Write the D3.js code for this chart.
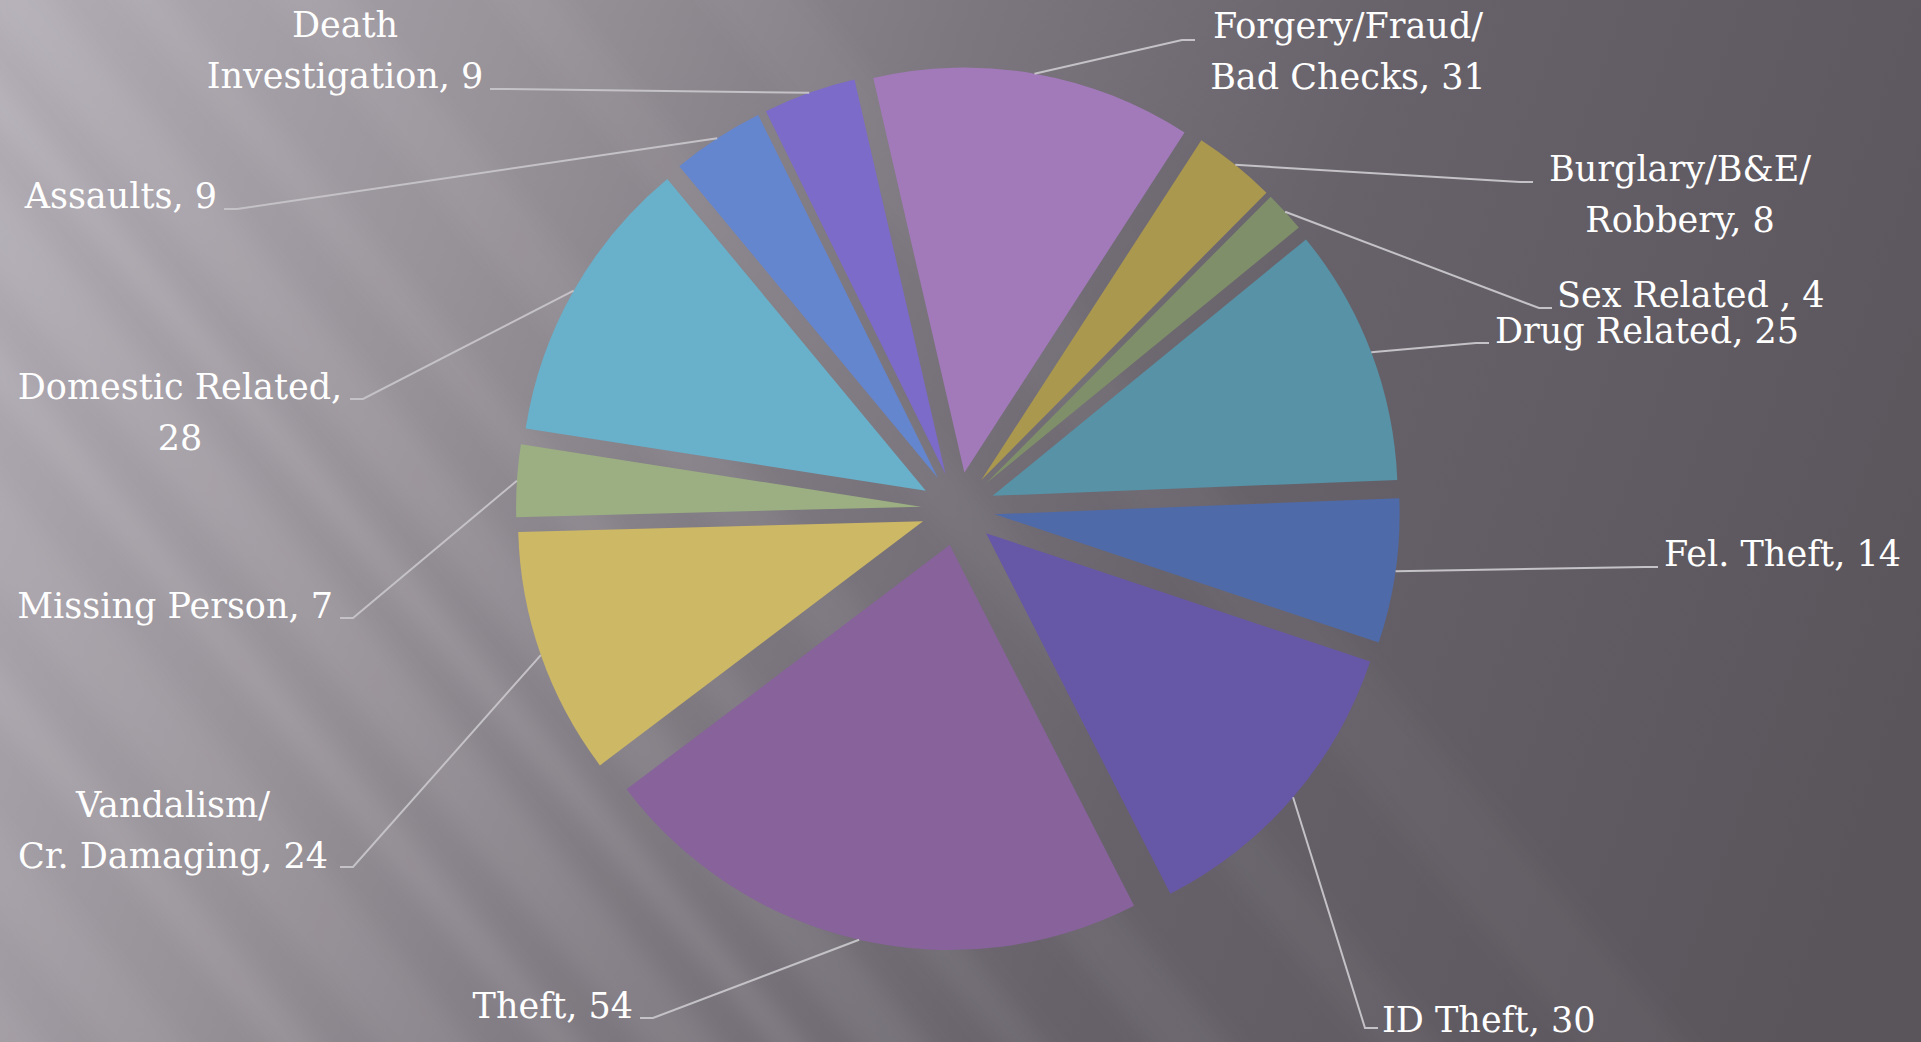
<!DOCTYPE html>
<html>
<head>
<meta charset="utf-8">
<script src="https://cdn.jsdelivr.net/npm/d3@7"></script>
<style>
  html, body { margin: 0; padding: 0; overflow: hidden; background: #6e6970; }
  svg { display: block; }
  .lbl {
    font-family: "DejaVu Serif", serif;
    font-size: 35px;
    fill: #ffffff;
  }
</style>
</head>
<body>
<div id="chart"></div>
<script>
// Data, clockwise from the first slice
const categories = [
    "Forgery/Fraud/\nBad Checks",
    "Burglary/B&E/\nRobbery",
    "Sex Related ",
    "Drug Related",
    "Fel. Theft",
    "ID Theft",
    "Theft",
    "Vandalism/\nCr. Damaging",
    "Missing Person",
    "Domestic Related",
    "Assaults",
    "Death\nInvestigation"
];
const values = [31, 8, 4, 25, 14, 30, 54, 24, 7, 28, 9, 9];
const colors = [
    "#a27aba", "#ab984f", "#7f8f6a", "#5792a7", "#4f6aa9", "#6757a7",
    "#87629b", "#cdb865", "#9baf82", "#69b0ca", "#6486cf", "#7c6bc9"
];

// Label placement (layout only): anchor, alignment, baseline, leader attach point
const labelLayout = [
    { x: 1348, y: 38,   anchor: "middle", lx: 1195, ly: 40,   dir: 1 },
    { x: 1680, y: 181,  anchor: "middle", lx: 1533, ly: 182,  dir: 1 },
    { x: 1557, y: 307,  anchor: "start",  lx: 1552, ly: 308,  dir: 1 },
    { x: 1495, y: 343,  anchor: "start",  lx: 1489, ly: 343,  dir: 1 },
    { x: 1664, y: 566,  anchor: "start",  lx: 1658, ly: 567,  dir: 1 },
    { x: 1382, y: 1032, anchor: "start",  lx: 1378, ly: 1028, dir: 1 },
    { x: 633,  y: 1018, anchor: "end",    lx: 640,  ly: 1018, dir: -1 },
    { x: 173,  y: 817,  anchor: "middle", lx: 340,  ly: 867,  dir: -1 },
    { x: 333,  y: 618,  anchor: "end",    lx: 340,  ly: 618,  dir: -1 },
    { x: 180,  y: 399,  anchor: "middle", lx: 350,  ly: 399,  dir: -1, breakValue: true },
    { x: 217,  y: 208,  anchor: "end",    lx: 224,  ly: 209,  dir: -1 },
    { x: 345,  y: 37,   anchor: "middle", lx: 490,  ly: 89,   dir: -1 }
];

const width = 1921, height = 1042;
const cx = 958, cy = 509;
const radius = 405, explode = 37;
const startDeg = -13;
const lineHeight = 51;

const svg = d3.select("#chart")
    .append("svg")
    .attr("width", width)
    .attr("height", height);

const defs = svg.append("defs");

// Background gradient
const bg = defs.append("linearGradient")
    .attr("id", "bg")
    .attr("gradientUnits", "userSpaceOnUse")
    .attr("x1", 0).attr("y1", 0)
    .attr("x2", 1921).attr("y2", 700);
[
    [0, "#b2adb5"], [0.25, "#979198"], [0.45, "#7c767e"],
    [0.65, "#67626a"], [1, "#5a555b"]
].forEach(s => bg.append("stop").attr("offset", s[0]).attr("stop-color", s[1]));

defs.append("filter")
    .attr("id", "blur")
    .attr("x", "-20%").attr("y", "-20%").attr("width", "140%").attr("height", "140%")
    .append("feGaussianBlur")
    .attr("stdDeviation", 11);

svg.append("rect")
    .attr("width", width)
    .attr("height", height)
    .attr("fill", "url(#bg)");

// Diagonal light streaks
const streaks = [
    { off: -620, w: 80, o: 0.03 },
    { off: -430, w: 50, o: 0.04 },
    { off: -270, w: 60, o: 0.05 },
    { off: -130, w: 35, o: 0.06 },
    { off: -40,  w: 55, o: 0.07 },
    { off: 55,   w: 25, o: 0.10 },
    { off: 120,  w: 60, o: 0.08 },
    { off: 225,  w: 30, o: 0.09 },
    { off: 310,  w: 70, o: 0.06 },
    { off: 430,  w: 35, o: 0.08 },
    { off: 530,  w: 60, o: 0.05 },
    { off: 640,  w: 40, o: 0.05 }
];
svg.append("g")
    .attr("filter", "url(#blur)")
    .append("g")
    .attr("transform", "rotate(50)")
    .selectAll("rect")
    .data(streaks)
    .join("rect")
    .attr("x", -1500)
    .attr("width", 4000)
    .attr("y", d => d.off)
    .attr("height", d => d.w)
    .attr("fill", "#ffffff")
    .attr("opacity", d => d.o);

// Pie
const toRad = Math.PI / 180;
const pie = d3.pie()
    .sort(null)
    .value(d => d)
    .startAngle(startDeg * toRad)
    .endAngle(startDeg * toRad + 2 * Math.PI);
const arcs = pie(values);
const arcGen = d3.arc().innerRadius(0).outerRadius(radius);
const mid = d => (d.startAngle + d.endAngle) / 2;

const pieG = svg.append("g").attr("transform", `translate(${cx},${cy})`);
pieG.selectAll(".slice")
    .data(arcs)
    .join("path")
    .attr("class", "slice")
    .attr("transform", d => `translate(${explode * Math.sin(mid(d))},${-explode * Math.cos(mid(d))})`)
    .attr("d", arcGen)
    .attr("fill", (d, i) => colors[i]);

// Leader lines
svg.append("g")
    .selectAll("polyline")
    .data(arcs)
    .join("polyline")
    .attr("points", (d, i) => {
        const L = labelLayout[i];
        const a = mid(d);
        const px = cx + (radius + explode) * Math.sin(a);
        const py = cy - (radius + explode) * Math.cos(a);
        const kx = L.lx - L.dir * 13;
        return `${px},${py} ${kx},${L.ly} ${L.lx},${L.ly}`;
    })
    .attr("fill", "none")
    .attr("stroke", "#c4c2c6")
    .attr("stroke-width", 2);

// Labels
const labels = svg.append("g")
    .selectAll("text")
    .data(arcs)
    .join("text")
    .attr("class", "lbl")
    .attr("x", (d, i) => labelLayout[i].x)
    .attr("y", (d, i) => labelLayout[i].y)
    .attr("text-anchor", (d, i) => labelLayout[i].anchor);

labels.each(function(d, i) {
    const L = labelLayout[i];
    const lines = L.breakValue
        ? [categories[i] + ",", String(values[i])]
        : (categories[i] + ", " + values[i]).split("\n");
    d3.select(this).selectAll("tspan")
        .data(lines)
        .join("tspan")
        .attr("x", L.x)
        .attr("dy", (t, j) => j === 0 ? 0 : lineHeight)
        .text(t => t);
});
</script>
</body>
</html>
